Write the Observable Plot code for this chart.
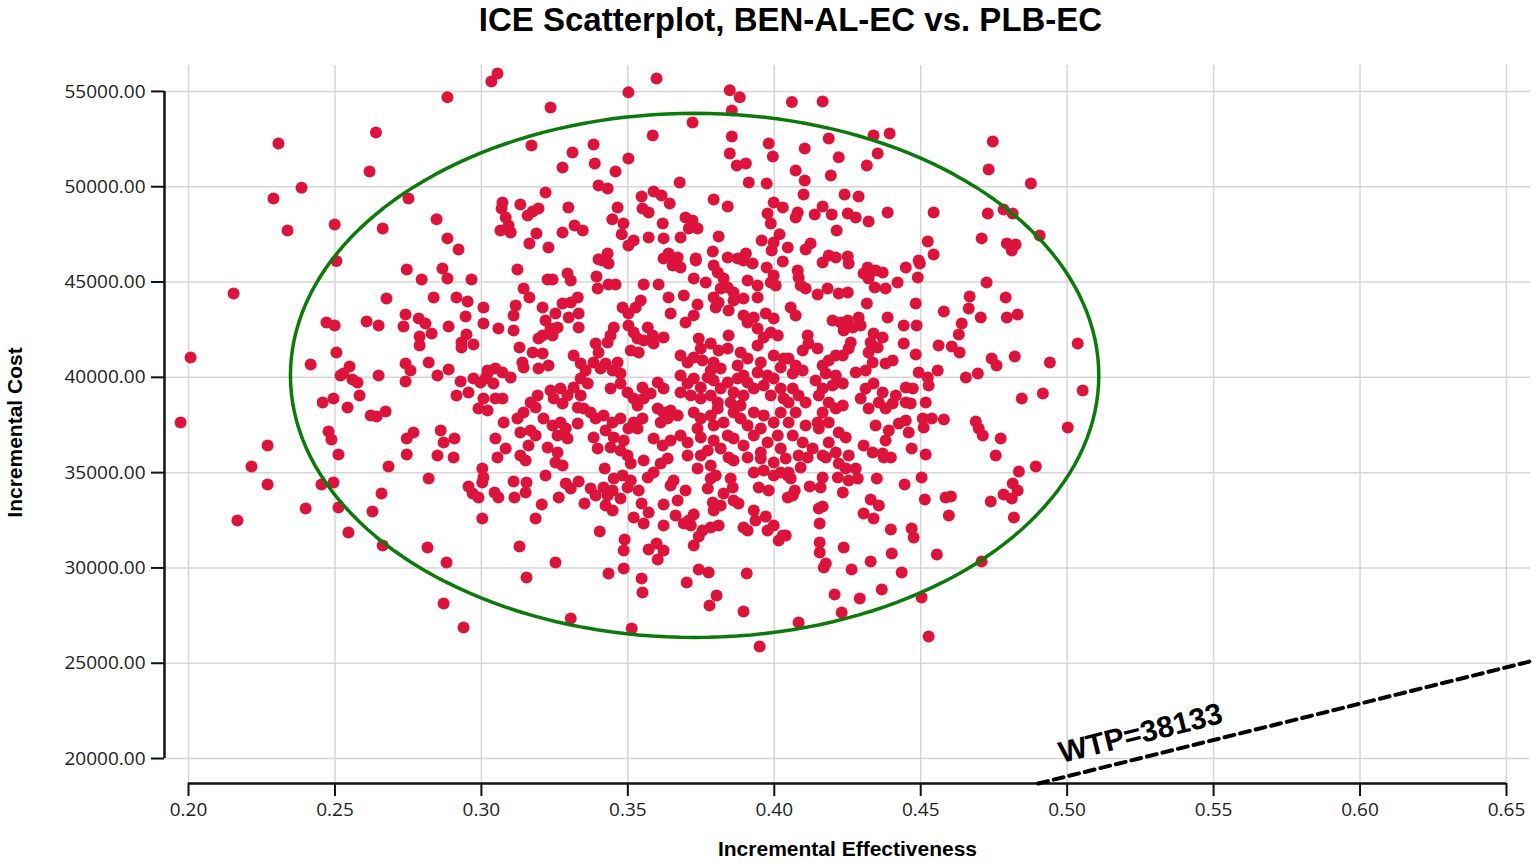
<!DOCTYPE html>
<html>
<head>
<meta charset="utf-8">
<script src="https://cdn.jsdelivr.net/npm/d3@7"></script>
<script src="https://cdn.jsdelivr.net/npm/@observablehq/plot@0.6"></script>
<style>
  html, body { margin: 0; padding: 0; background: #fff; }
</style>
</head>
<body>
<div id="chart"></div>
<script>
// ---- axis ticks & domains ----
const xTicks = [0.20, 0.25, 0.30, 0.35, 0.40, 0.45, 0.50, 0.55, 0.60, 0.65];
const yTicks = [20000, 25000, 30000, 35000, 40000, 45000, 50000, 55000];
const xDomain = [0.1918, 0.6582];
const yDomain = [18690, 56360];

// ---- labels ----
const titleText = "ICE Scatterplot, BEN-AL-EC vs. PLB-EC";
const xLabel = "Incremental Effectiveness";
const yLabel = "Incremental Cost";

// ---- willingness-to-pay threshold ----
const wtp = 38133;

// ---- confidence ellipse (centre and semi-axes) ----
const ellipseCenter = [0.3728, 40100];
const ellipseRadii = [0.138, 13750];

// ---- simulated ICER points [incremental effectiveness, incremental cost] ----
const ptsLeft = [
[0.3034,55520],[0.3055,55940],[0.2884,54690],[0.2307,52270],[0.264,52850],[0.2618,50800],[0.2386,49950],[0.229,49380],[0.2751,49380],[0.2338,47700],[0.2499,48020],[0.2663,47810],[0.2847,48290],[0.2884,47290],[0.2922,46710],[0.2505,46100],
[0.2154,44400],[0.2007,41040],[0.1973,37630],[0.227,36420],[0.2745,45660],[0.2867,45710],[0.2796,45130],[0.2884,45190],[0.2966,45130],[0.2676,44140],[0.2837,44190],[0.2915,44190],[0.2953,43980],[0.3007,43660],[0.2946,43190],[0.3007,42820],[0.2471,42880],[0.2499,42720],[0.2608,42930],[0.2649,42720],[0.2741,43300],[0.2734,42670],[0.2786,43090],[0.2809,42820],[0.283,42300],[0.2789,42140],[0.2789,41670],[0.2888,42670],[0.2949,42250],[0.2932,41830],[0.2932,41570],[0.2973,41720],[0.2505,41300],[0.2417,40670],[0.255,40570],[0.2519,40100],[0.2529,40200],[0.256,39890],[0.2577,39730],[0.2649,40100],[0.2741,40730],[0.2758,40360],[0.2741,39780],[0.282,40780],[0.285,40100],[0.2888,40410],[0.2929,39780],[0.2915,39050],[0.2956,39200],[0.2973,39940],[0.2997,39730],[0.3021,40200],[0.3007,38890],[0.299,38370],[0.3021,38260],[0.2458,38680],[0.2495,38890],[0.2584,39050],[0.2543,38420],[0.2622,38000],[0.2642,37940],[0.2673,38210],[0.2478,37160],[0.2488,36740],[0.2512,35950],[0.2745,36790],[0.2768,37110],[0.2861,37210],[0.2871,36580],[0.2908,36790],[0.2745,35950],[0.285,35900],[0.2905,35790],
[0.2215,35320],[0.227,34380],[0.2167,32490],[0.24,33120],[0.2454,34380],[0.2495,34480],[0.2512,33170],[0.2546,31860],[0.2683,35320],[0.2659,33900],[0.2628,32960],[0.2663,31180],[0.282,34690],[0.2816,31070],[0.2881,30280],[0.2871,28130],[0.2939,26870],[0.3003,35220],[0.3007,34740],[0.3003,34480],[0.2956,34270],[0.297,33900],[0.299,33690],[0.3003,32590]
];
const ptsUpperMid = [
[0.3502,54950],[0.3598,55680],[0.3236,54160],[0.3848,55060],[0.3882,54690],[0.3855,54000],[0.3721,53370],[0.3585,52690],[0.3855,52640],[0.3848,51740],[0.3872,51110],[0.3903,51220],[0.3913,50220],[0.3981,52270],[0.3995,51590],[0.3974,50170],[0.406,54450],[0.3171,52160],[0.3311,51800],[0.3383,52220],[0.3277,51010],[0.3387,51220],[0.3458,50800],[0.3502,51480],[0.3677,50220],[0.34,50070],[0.3431,49910],[0.3219,49700],[0.3072,49170],[0.3069,48860],[0.3083,48390],[0.3093,47970],[0.3065,47700],[0.31,47600],[0.3133,49070],[0.3158,48490],[0.3175,48700],[0.3195,48860],[0.3188,47550],[0.3164,47020],[0.3229,46810],[0.3297,48910],[0.3277,47600],[0.3318,47970],[0.3346,47700],[0.3465,48910],[0.3447,48290],[0.3485,48070],[0.3479,47500],[0.3502,46920],[0.352,47180],[0.3431,46500],[0.34,46190],[0.3547,49490],[0.3588,49750],[0.3615,49540],[0.3643,49120],[0.355,48860],[0.3571,48650],[0.3619,48070],[0.3571,47340],[0.3622,47290],[0.3793,49330],[0.3841,48960],[0.3697,48390],[0.3721,48230],[0.3738,47810],[0.3708,47810],[0.368,47340],[0.381,47390],[0.379,46600],[0.3639,46500],[0.3653,46240],[0.3732,46240],[0.3841,46290],[0.3875,46240],[0.3903,46500],[0.3998,49170],[0.4029,48910],[0.3977,48600],[0.3988,48070],[0.3957,47180],[0.3998,47070],[0.4018,47500],[0.3991,46650],[0.4046,46810]
];
const ptsUpperRight = [
[0.4165,54470],[0.4186,52530],[0.4339,52690],[0.4394,52790],[0.4104,52010],[0.422,51540],[0.4353,51740],[0.4316,51110],[0.4073,50850],[0.4193,50590],[0.4104,50330],[0.41,49590],[0.424,49590],[0.4288,49490],[0.408,48650],[0.4073,48390],[0.4138,48540],[0.4165,48960],[0.4196,48540],[0.4251,48600],[0.4278,48390],[0.4322,48180],[0.4387,48650],[0.4213,47700],[0.4107,46710],[0.4124,47020],[0.4186,46390],[0.421,46290],[0.4251,46340],[0.4544,48650],[0.4524,47130],[0.4544,46450],[0.4493,46130],[0.4746,52370],[0.4732,50900],[0.4876,50170],[0.4729,48600],[0.4783,48810],[0.4814,48600],[0.4708,47290],[0.4794,47020],[0.4824,46970],[0.4811,46650],[0.4906,47440]
];
const ptsMidRight = [
[0.4725,44970],[0.4667,44240],[0.479,44190],[0.4579,43450],[0.4664,43610],[0.4705,43140],[0.4794,43140],[0.4831,43300],[0.464,42820],[0.463,42250],[0.4561,41670],[0.4606,41620],[0.4633,41300],[0.4742,40990],[0.4759,40620],[0.4821,41090],[0.5036,41770],[0.4941,40780],[0.4654,39990],[0.4695,40200],[0.5053,39310],[0.4845,38890],[0.4917,39150],[0.5002,37370],[0.4688,37680],[0.4698,37320],[0.4712,36950],[0.4773,36790],[0.4756,35900],[0.4579,37790],[0.4538,37840],[0.4517,38680],[0.4558,40360],[0.4524,39990],[0.4527,39570],[0.4493,40250],[0.4483,41200],[0.4486,42720],[0.4442,42720],[0.4442,41770],[0.4387,43140],[0.4483,43870],[0.449,45240],[0.4497,45970],[0.4449,45760],[0.4421,44980],[0.438,44660],[0.4343,44710],[0.4316,43870],[0.4507,37840],[0.451,37370],[0.4469,36270],[0.4517,35950],
[0.4165,46030],[0.4254,45970],[0.408,45600],[0.4083,45240],[0.4305,45450],[0.4322,45190],[0.4346,45600],[0.437,45500],[0.4319,45760],[0.409,44820],[0.4107,44660],[0.4148,44350],[0.4182,44660],[0.422,44400],[0.4251,44450],[0.4056,43660],[0.4073,43240],[0.4199,42980],[0.4227,42880],[0.4251,42980],[0.4237,42460],[0.4268,42610],[0.4288,43140],[0.4295,42720],[0.4261,41830],[0.4254,41510],[0.4234,41150],[0.4339,42300],[0.437,42090],[0.4329,41830],[0.4353,41570],[0.4322,41300],[0.4114,42200],[0.4117,41770],[0.4097,41410],[0.4148,41510],[0.4049,40990],[0.4073,40620],[0.4063,40200],[0.4097,40360],[0.4165,40620],[0.421,41150],[0.4186,40880],[0.4336,40780],[0.438,40730],[0.4404,40880],[0.4312,40360],[0.4278,40250],[0.4176,40200],[0.421,40100],[0.4234,39680],[0.4199,39570],[0.4141,39830],[0.4165,39410],[0.4063,39410],[0.4083,39050],[0.4049,38680],[0.4107,38680],[0.4073,38160],[0.4049,37630],[0.4152,39050],[0.4186,38680],[0.4165,38160],[0.421,38370],[0.4234,38520],[0.4148,37630],[0.4312,39410],[0.4339,39680],[0.437,39200],[0.4295,38890],[0.4322,38370],[0.4357,38680],[0.438,38370],[0.4404,38630],[0.4415,39050],[0.4449,39470],[0.4473,39410],[0.4449,38680],[0.4466,38630],[0.4107,37470],[0.4152,37320],[0.4186,37630],[0.422,37110],[0.4244,36840],[0.4186,36580],[0.4346,37470],[0.4391,37210],[0.4425,37580],[0.4449,37740],[0.4459,37110],[0.438,36690],[0.4305,36420],[0.4336,36060],[0.437,36000],[0.4063,36950],[0.4097,36580],[0.4131,36270],[0.4083,35900],[0.4165,35900],[0.421,36060],[0.4254,35900]
];
const ptsLowerRight = [
[0.4893,35320],[0.4835,35060],[0.4814,34430],[0.4831,34060],[0.4783,33850],[0.4811,33640],[0.4739,33490],[0.4818,32650],[0.4585,33690],[0.4603,33750],[0.4596,32750],[0.4514,33590],[0.4503,34740],[0.4555,30700],[0.4708,30340],[0.4503,28450],[0.4527,26400],[0.4445,34380],[0.435,34690],[0.4329,33590],[0.4357,33280],[0.4305,32860],[0.4339,32590],[0.4398,32020],[0.4469,32070],[0.4476,31600],[0.4401,30760],[0.4329,30340],[0.4435,29760],[0.4367,28870],[0.4292,28400],[0.4206,28610],[0.423,27660],[0.4083,27140],[0.4264,29920],[0.4237,31070],[0.4169,30020],[0.4176,30230],[0.4155,31330],[0.4155,30810],[0.4155,32330],[0.4152,33120],[0.4165,33220],[0.4234,33960],[0.4063,33800],[0.407,34060],[0.4039,31700],[0.4121,34270],[0.4158,34220],[0.4165,34740],[0.4217,34740],[0.4254,34590],[0.4285,34690],[0.4244,35220],[0.422,35480],[0.4278,35220],[0.409,35270],[0.4049,35010],[0.4056,34690],[0.4114,35790],[0.4176,35790],[0.4374,35790],[0.4398,35790]
];
const ptsLowerMid = [
[0.395,25880],[0.3895,27710],[0.3779,28030],[0.3803,28550],[0.3906,29710],[0.3701,29240],[0.3742,29920],[0.3776,29760],[0.3513,26820],[0.3305,27350],[0.3547,29440],[0.355,28710],[0.3486,29970],[0.3434,29710],[0.3253,30280],[0.3154,29500],[0.313,31120],[0.3404,31910],[0.3489,31490],[0.3486,30910],[0.3571,30970],[0.3598,31280],[0.3622,30910],[0.3602,30440],[0.3725,31180],[0.3742,31650],[0.3185,32590],[0.3206,33330],[0.3264,33690],[0.3113,33690],[0.3058,33690],[0.3045,33960],[0.311,34530],[0.3154,34480],[0.3151,33960],[0.3219,34850],[0.3151,35640],[0.3055,35790],[0.3253,35530],[0.3277,35370],[0.3288,34430],[0.3305,34170],[0.3332,34530],[0.3352,33380],[0.3373,34170],[0.339,33800],[0.3417,34220],[0.3431,33800],[0.3448,34060],[0.3475,33640],[0.3424,33280],[0.3448,33010],[0.3421,35220],[0.3452,34690],[0.3482,34850],[0.351,34590],[0.3499,34220],[0.3537,34060],[0.3568,34740],[0.3588,35010],[0.3612,35480],[0.3554,35640],[0.351,35480],[0.3636,35740],[0.3547,33380],[0.3571,32910],[0.3554,32330],[0.352,32650],[0.3622,33330],[0.3622,32230],[0.367,33540],[0.3697,34060],[0.3656,34590],[0.3646,34330],[0.3663,32750],[0.3691,32330],[0.3708,32490],[0.3725,32800],[0.3715,32230],[0.3755,31960],[0.3783,32120],[0.381,32230],[0.3793,33010],[0.3817,33280],[0.379,33430],[0.3827,33900],[0.3858,34220],[0.3861,33540],[0.3878,33380],[0.3851,34690],[0.3773,34170],[0.3783,34690],[0.3738,35220],[0.3783,35370],[0.38,34850],[0.3895,32120],[0.3909,31960],[0.393,33010],[0.3936,32490],[0.3971,32700],[0.3977,31960],[0.3998,32230],[0.4029,31700],[0.4015,31440],[0.3947,34220],[0.3981,34060],[0.393,35010],[0.3964,35110],[0.3998,34850],[0.4022,35010],[0.4046,34850],[0.3861,35640],[0.3844,35790],[0.3909,35790],[0.3954,35740],[0.3998,35530],[0.4039,35740],[0.4046,33690]
];
const ptsCenterUpper = [
[0.3413,46130],[0.3434,45970],[0.3123,45660],[0.3226,45130],[0.3243,45130],[0.3294,45450],[0.3305,45080],[0.3393,45290],[0.3397,44660],[0.3434,44870],[0.3458,44870],[0.3554,44870],[0.3605,44870],[0.3622,46240],[0.3653,45870],[0.368,45760],[0.367,46290],[0.3732,46130],[0.3725,45190],[0.3766,44970],[0.3793,45870],[0.3807,45500],[0.3895,46130],[0.3926,45970],[0.3974,45760],[0.3998,45340],[0.4005,44820],[0.3988,44970],[0.4029,46080],[0.3827,45190],[0.3841,44710],[0.3817,44660],[0.3909,45080],[0.3943,44820],[0.3943,44190],[0.3861,44450],[0.3861,44030],[0.3895,44140],[0.3793,44190],[0.38,43660],[0.381,43930],[0.3844,43510],
[0.3144,44660],[0.3164,44190],[0.3117,43770],[0.311,43240],[0.3209,43660],[0.3277,43870],[0.3305,43930],[0.3329,44190],[0.3253,43350],[0.3298,43140],[0.3332,43350],[0.3219,42980],[0.3236,42560],[0.3209,42200],[0.3195,42040],[0.326,42610],[0.3243,42200],[0.3058,42560],[0.311,42460],[0.3332,42610],[0.313,41570],[0.3175,41300],[0.3209,41250],[0.314,40780],[0.3144,40520],[0.3195,40460],[0.3229,40620],[0.3021,40360],[0.3048,40460],[0.3072,40250],[0.31,39990],[0.3014,39940],[0.3041,39680],[0.3315,41150],[0.3339,40730],[0.3356,40360],[0.3339,39940],[0.3363,39680],[0.339,41770],[0.34,41300],[0.3431,41830],[0.3441,42200],[0.3452,42610],[0.3383,40780],[0.3407,40460],[0.3424,40730],[0.3448,40360],[0.3465,40780],[0.3475,40200],[0.3482,43660],[0.3502,43350],[0.3527,43660],[0.3544,44030],[0.3502,42720],[0.352,42350],[0.3533,42040],[0.3568,42610],[0.3585,42200],[0.3588,41770],[0.3554,41930],[0.351,41410],[0.3537,41300],[0.3622,42090],[0.3646,43350],[0.3639,44190],[0.3691,44290],[0.3738,43820],[0.3697,42880],[0.3725,43250],[0.3742,42040],[0.3749,41510],[0.3783,41770],[0.381,41410],[0.368,41150],[0.3704,40780],[0.3725,41040],[0.3755,40880],[0.3793,40780],[0.3817,40460],[0.3783,40360],[0.3844,42200],[0.3841,41510],[0.3895,43250],[0.3909,42880],[0.393,43140],[0.3971,43350],[0.3998,43090],[0.3943,42560],[0.3988,42350],[0.3885,41300],[0.3909,40990],[0.3943,41670],[0.3964,42090],[0.3998,41150],[0.4022,40520],[0.4032,40990],[0.4012,42200],[0.3875,40620],[0.3895,40100],[0.3954,40780],[0.3977,40100],[0.3943,40250]
];
const ptsCenterLower = [
[0.3048,38890],[0.3072,38890],[0.3076,37630],[0.3048,36790],[0.3083,36270],[0.3123,37840],[0.3144,38150],[0.3168,38680],[0.3192,39050],[0.3185,38420],[0.3133,37110],[0.3168,37210],[0.3185,36950],[0.3161,36420],[0.3133,35900],[0.3236,39310],[0.3247,38890],[0.327,39410],[0.3294,39050],[0.3277,38630],[0.3315,39470],[0.3339,39050],[0.3329,38420],[0.3349,38370],[0.3212,37840],[0.3243,37470],[0.327,37630],[0.3288,37320],[0.326,36950],[0.3294,36790],[0.3329,37580],[0.3226,36320],[0.326,36060],[0.3373,38160],[0.339,37840],[0.3417,38000],[0.3448,37630],[0.3475,37840],[0.3424,37210],[0.3452,36840],[0.3486,36690],[0.3383,36840],[0.3397,36270],[0.3441,36320],[0.3475,36160],[0.3499,35900],[0.3441,39410],[0.3475,39680],[0.3499,39200],[0.352,38890],[0.355,39470],[0.3554,38890],[0.3578,39150],[0.3602,39730],[0.3622,39410],[0.3533,38520],[0.352,37630],[0.355,37840],[0.3533,37320],[0.3502,37320],[0.3602,38370],[0.3622,38160],[0.3646,38260],[0.3636,37840],[0.367,38000],[0.3612,37630],[0.3588,36790],[0.3619,36420],[0.3646,36690],[0.368,40100],[0.3704,39680],[0.3725,39940],[0.3749,39470],[0.368,39200],[0.3715,39050],[0.3749,38890],[0.3773,39990],[0.3793,39830],[0.3817,39410],[0.3783,39050],[0.3807,38680],[0.3725,38160],[0.3749,37840],[0.3783,38000],[0.3807,38370],[0.3793,37470],[0.3827,37630],[0.3738,37320],[0.368,36950],[0.3704,36580],[0.3749,36840],[0.3793,36690],[0.3841,36950],[0.3817,36270],[0.3773,36160],[0.3841,39730],[0.3875,39940],[0.3861,39200],[0.3895,39050],[0.3851,38680],[0.3885,38520],[0.3909,39730],[0.393,39410],[0.3964,39570],[0.3998,39940],[0.4022,39410],[0.3988,39050],[0.4032,38890],[0.3861,38160],[0.3885,37840],[0.393,38160],[0.3964,38000],[0.3909,37470],[0.3954,37320],[0.3998,37630],[0.4022,38160],[0.3861,36790],[0.3895,36420],[0.393,36950],[0.3977,36580],[0.4012,36950],[0.4022,36270],[0.3954,36060],[0.3704,35900],[0.3749,35900]
];

// ---- build tables for the library ----
const points = [].concat(ptsLeft, ptsUpperMid, ptsUpperRight, ptsMidRight,
  ptsLowerRight, ptsLowerMid, ptsCenterUpper, ptsCenterLower)
  .map(([e, c]) => ({e, c}));

const ellipse = d3.range(0, 360, 2).map(a => {
  const t = a * Math.PI / 180;
  return {e: ellipseCenter[0] + ellipseRadii[0] * Math.cos(t),
          c: ellipseCenter[1] + ellipseRadii[1] * Math.sin(t)};
});

const wtpLine = [yDomain[0] / wtp, xDomain[1]].map(e => ({e, c: wtp * e}));
const wtpLabel = [{e: 0.5251, c: 21312, label: `WTP=${wtp}`}];

const fmt = d3.format(".2f");
const boldFont = "'Liberation Sans', Arial, sans-serif";

const chart = Plot.plot({
  width: 1535,
  height: 863,
  marginLeft: 164,
  marginRight: 5,
  marginTop: 65,
  marginBottom: 80,
  x: {domain: xDomain},
  y: {domain: yDomain},
  style: {fontFamily: "'Open Sans', sans-serif", fontSize: "19px", color: "#222", background: "#fff"},
  marks: [
    Plot.gridX(xTicks, {stroke: "#d6d6d6", strokeOpacity: 1, strokeWidth: 1.5}),
    Plot.gridY(yTicks, {stroke: "#d6d6d6", strokeOpacity: 1, strokeWidth: 1.5}),
    Plot.axisX(xTicks, {tickFormat: fmt, tickSize: 13, tickPadding: 6, label: null, stroke: "#111", strokeWidth: 2}),
    Plot.axisY(yTicks, {tickFormat: fmt, tickSize: 13, tickPadding: 6, label: null, stroke: "#111", strokeWidth: 2}),
    Plot.ruleY([yDomain[0]], {x1: xTicks[0], x2: xTicks[xTicks.length - 1], stroke: "#111", strokeWidth: 2.5}),
    Plot.ruleX([xDomain[0]], {y1: yTicks[0], y2: yTicks[yTicks.length - 1], stroke: "#111", strokeWidth: 2.5}),
    Plot.line(wtpLine, {x: "e", y: "c", stroke: "#000", strokeWidth: 4, strokeDasharray: "10,6"}),
    Plot.dot(points, {x: "e", y: "c", r: 6, fill: "#dc143c"}),
    Plot.line(ellipse, {x: "e", y: "c", curve: "linear-closed", stroke: "#0b7a0b", strokeWidth: 3.5}),
    Plot.text(wtpLabel, {x: "e", y: "c", text: "label", rotate: -14, fontSize: 30, fontWeight: "bold", fontFamily: boldFont, fill: "#000"}),
    Plot.text([titleText], {frameAnchor: "top-left", dx: 790 - 164, dy: -45, lineAnchor: "middle", textAnchor: "middle", fontSize: 33, fontWeight: "bold", fontFamily: boldFont, fill: "#000"}),
    Plot.text([xLabel], {frameAnchor: "bottom", dy: 66, lineAnchor: "middle", textAnchor: "middle", fontSize: 21, fontWeight: "bold", fontFamily: boldFont, fill: "#000"}),
    Plot.text([yLabel], {frameAnchor: "left", dx: -149, dy: 8, rotate: -90, lineAnchor: "middle", textAnchor: "middle", fontSize: 21, fontWeight: "bold", fontFamily: boldFont, fill: "#000"})
  ]
});

document.getElementById("chart").appendChild(chart);
</script>
</body>
</html>
